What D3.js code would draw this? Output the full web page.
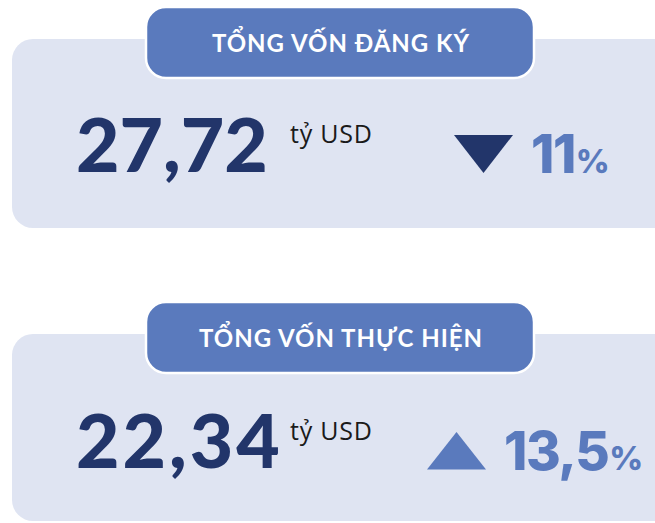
<!DOCTYPE html>
<html><head><meta charset="utf-8">
<script src="https://cdn.jsdelivr.net/npm/d3@7"></script>
<style>html,body{margin:0;padding:0;background:#fff;overflow:hidden}</style>
</head><body><svg id="c" width="655" height="523"></svg>
<script>
const titles = ["TỔNG VỐN ĐĂNG KÝ", "TỔNG VỐN THỰC HIỆN"];
const values = ["27,72", "22,34"];
const units = ["tỷ USD", "tỷ USD"];
const changes = ["11", "13,5"];
const directions = ["down", "up"];

const svg = d3.select("#c");
const C = {box:"#dfe4f2", pill:"#5a7abd", navy:"#22356a", light:"#5a7abd"};
const boxTop = [39, 334], boxH = [189, 187], pillTop = [7, 302];
const numBase = [172, 468], unitBase = [143, 440];
const numSpacing = [0, 3];
const triX = [483.5, 456.5], triTop = [135, 432], triBot = [173, 469.5];
const chgX = [531, 504];

titles.forEach((t, i) => {
  const g = svg.append("g");
  g.append("rect").attr("x", 12).attr("y", boxTop[i]).attr("width", 665).attr("height", boxH[i])
    .attr("rx", 21).attr("fill", C.box);
  g.append("rect").attr("x", 146).attr("y", pillTop[i]).attr("width", 388).attr("height", 71)
    .attr("rx", 20).attr("fill", C.pill).attr("stroke", "#fff").attr("stroke-width", 2.5);
  g.append("text").attr("x", 341).attr("y", pillTop[i] + 45).attr("text-anchor", "middle")
    .attr("font-family", "Lato").attr("font-weight", 700).attr("font-size", 24)
    .attr("letter-spacing", 1).attr("fill", "#fff").text(t);
  g.append("text").attr("x", 76).attr("y", numBase[i])
    .attr("font-family", "Lato").attr("font-weight", 900).attr("font-size", 75)
    .attr("letter-spacing", numSpacing[i])
    .attr("fill", C.navy).text(values[i]);
  g.append("text").attr("x", 290).attr("y", unitBase[i])
    .attr("font-family", "Open Sans").attr("font-size", 25).attr("letter-spacing", 0.8)
    .attr("fill", "#1a1a1a").text(units[i]);
  const x = triX[i], w = 59;
  const pts = directions[i] === "down"
    ? [[x - w/2, triTop[i]], [x + w/2, triTop[i]], [x, triBot[i]]]
    : [[x - w/2, triBot[i]], [x + w/2, triBot[i]], [x, triTop[i]]];
  g.append("path").attr("d", d3.line()(pts) + "Z")
    .attr("fill", directions[i] === "down" ? C.navy : C.light);
  const tx = g.append("text").attr("x", chgX[i]).attr("y", triBot[i])
    .attr("font-family", "Inter").attr("font-weight", 800).attr("fill", C.light);
  tx.append("tspan").attr("font-size", 53).attr("letter-spacing", -1.5).text(changes[i]);
  tx.append("tspan").attr("font-size", 33).attr("dx", 1).text("%");
});
</script></body></html>
